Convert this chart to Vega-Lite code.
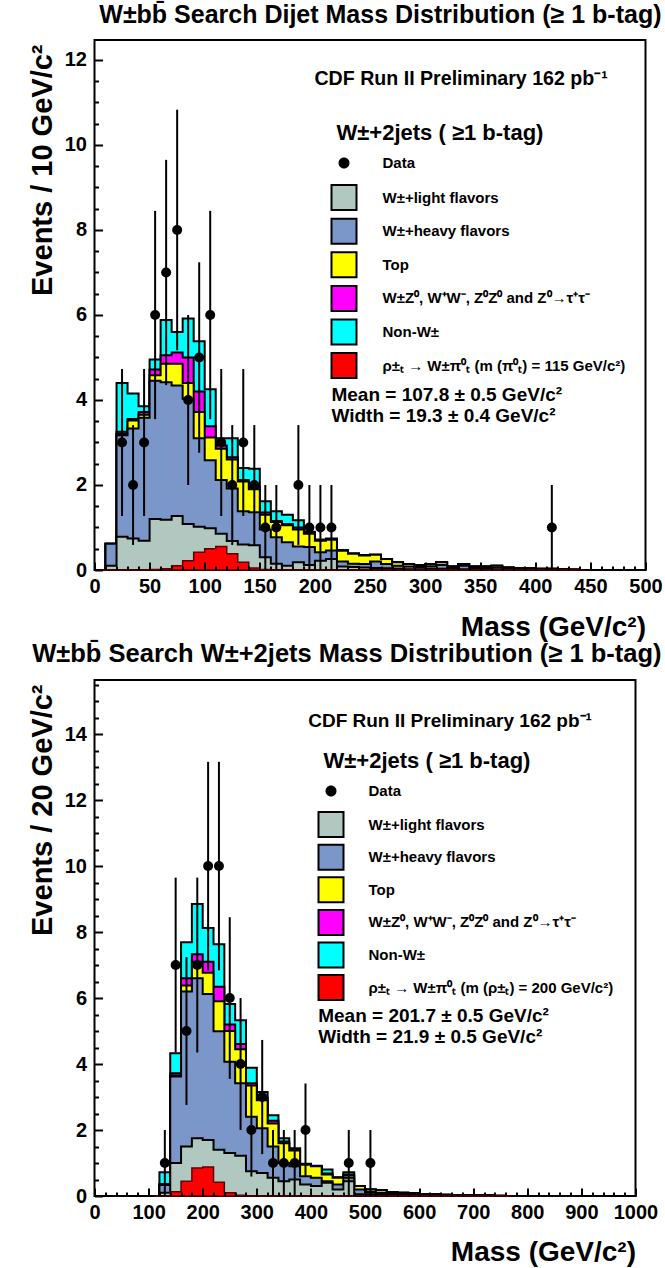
{
  "$schema": "https://vega.github.io/schema/vega-lite/v6.json",
  "padding": {"left": 27.5, "top": 2, "right": 0, "bottom": 0},
  "bounds": "flush",
  "spacing": 110,
  "config": {
    "font": "Liberation Sans, Arial, sans-serif",
    "view": {"stroke": "black", "strokeWidth": 2},
    "axis": {"labelFont": "Liberation Sans, Arial, sans-serif", "labelFontWeight": "bold", "labelFontSize": 20, "labelColor": "black", "titleFont": "Liberation Sans, Arial, sans-serif", "titleColor": "black", "titleFontWeight": "bold", "titleFontSize": 28, "grid": false, "domain": false, "tickColor": "black"},
    "title": {"font": "Liberation Sans, Arial, sans-serif", "fontWeight": "bold", "color": "black"}
  },
  "datasets": {
    "h1": [
      {"m":5,"wlf":0,"whf":0,"top":0,"vv":0,"nonw":0,"sig":0},
      {"m":15,"wlf":0.1,"whf":0.62,"top":0.62,"vv":0.62,"nonw":0.62,"sig":0},
      {"m":25,"wlf":0.78,"whf":3.17,"top":3.2,"vv":3.25,"nonw":4.4,"sig":0},
      {"m":35,"wlf":0.74,"whf":3.33,"top":3.52,"vv":3.55,"nonw":4.15,"sig":0},
      {"m":45,"wlf":0.69,"whf":3.58,"top":3.65,"vv":3.72,"nonw":3.85,"sig":0},
      {"m":55,"wlf":1.2,"whf":4.45,"top":4.58,"vv":4.72,"nonw":4.95,"sig":0.01},
      {"m":65,"wlf":1.18,"whf":4.42,"top":4.85,"vv":5.05,"nonw":5.88,"sig":0.03},
      {"m":75,"wlf":1.27,"whf":4.34,"top":4.85,"vv":5.12,"nonw":5.6,"sig":0.1},
      {"m":85,"wlf":1.08,"whf":4.03,"top":4.4,"vv":5.0,"nonw":5.92,"sig":0.22},
      {"m":95,"wlf":1.02,"whf":3.1,"top":3.72,"vv":4.2,"nonw":5.38,"sig":0.42},
      {"m":105,"wlf":0.98,"whf":2.58,"top":3.12,"vv":3.38,"nonw":4.25,"sig":0.5},
      {"m":115,"wlf":0.85,"whf":2.12,"top":2.85,"vv":2.93,"nonw":3.1,"sig":0.55},
      {"m":125,"wlf":0.68,"whf":1.92,"top":2.6,"vv":2.65,"nonw":3.1,"sig":0.38},
      {"m":135,"wlf":0.6,"whf":1.38,"top":2.08,"vv":2.12,"nonw":2.4,"sig":0.18},
      {"m":145,"wlf":0.58,"whf":1.36,"top":1.9,"vv":1.96,"nonw":2.38,"sig":0.05},
      {"m":155,"wlf":0.3,"whf":0.95,"top":1.3,"vv":1.35,"nonw":1.62,"sig":0.01},
      {"m":165,"wlf":0.15,"whf":0.77,"top":1.13,"vv":1.15,"nonw":1.38,"sig":0},
      {"m":175,"wlf":0.1,"whf":0.65,"top":1.05,"vv":1.08,"nonw":1.3,"sig":0},
      {"m":185,"wlf":0.18,"whf":0.55,"top":0.95,"vv":1.0,"nonw":1.17,"sig":0},
      {"m":195,"wlf":0.12,"whf":0.54,"top":0.85,"vv":0.87,"nonw":0.9,"sig":0},
      {"m":205,"wlf":0.22,"whf":0.42,"top":0.69,"vv":0.7,"nonw":0.72,"sig":0},
      {"m":215,"wlf":0.26,"whf":0.46,"top":0.71,"vv":0.72,"nonw":0.74,"sig":0},
      {"m":225,"wlf":0.08,"whf":0.2,"top":0.45,"vv":0.46,"nonw":0.47,"sig":0},
      {"m":235,"wlf":0.07,"whf":0.15,"top":0.38,"vv":0.39,"nonw":0.39,"sig":0},
      {"m":245,"wlf":0.06,"whf":0.14,"top":0.34,"vv":0.35,"nonw":0.35,"sig":0},
      {"m":255,"wlf":0.05,"whf":0.2,"top":0.36,"vv":0.36,"nonw":0.36,"sig":0},
      {"m":265,"wlf":0.04,"whf":0.14,"top":0.26,"vv":0.26,"nonw":0.26,"sig":0},
      {"m":275,"wlf":0.03,"whf":0.1,"top":0.18,"vv":0.18,"nonw":0.18,"sig":0},
      {"m":285,"wlf":0.02,"whf":0.08,"top":0.14,"vv":0.14,"nonw":0.14,"sig":0},
      {"m":295,"wlf":0.02,"whf":0.07,"top":0.11,"vv":0.11,"nonw":0.11,"sig":0},
      {"m":305,"wlf":0.03,"whf":0.09,"top":0.14,"vv":0.14,"nonw":0.14,"sig":0},
      {"m":315,"wlf":0.03,"whf":0.12,"top":0.18,"vv":0.18,"nonw":0.18,"sig":0},
      {"m":325,"wlf":0.02,"whf":0.05,"top":0.08,"vv":0.08,"nonw":0.08,"sig":0},
      {"m":335,"wlf":0.02,"whf":0.1,"top":0.14,"vv":0.14,"nonw":0.14,"sig":0},
      {"m":345,"wlf":0.01,"whf":0.05,"top":0.08,"vv":0.08,"nonw":0.08,"sig":0},
      {"m":355,"wlf":0.01,"whf":0.05,"top":0.08,"vv":0.08,"nonw":0.08,"sig":0},
      {"m":365,"wlf":0.01,"whf":0.06,"top":0.1,"vv":0.1,"nonw":0.1,"sig":0},
      {"m":375,"wlf":0.01,"whf":0.03,"top":0.06,"vv":0.06,"nonw":0.06,"sig":0},
      {"m":385,"wlf":0.01,"whf":0.03,"top":0.05,"vv":0.05,"nonw":0.05,"sig":0},
      {"m":395,"wlf":0,"whf":0.02,"top":0.04,"vv":0.04,"nonw":0.04,"sig":0},
      {"m":405,"wlf":0,"whf":0.02,"top":0.03,"vv":0.03,"nonw":0.03,"sig":0},
      {"m":415,"wlf":0,"whf":0.01,"top":0.03,"vv":0.03,"nonw":0.03,"sig":0},
      {"m":425,"wlf":0,"whf":0.01,"top":0.02,"vv":0.02,"nonw":0.02,"sig":0},
      {"m":435,"wlf":0,"whf":0,"top":0.01,"vv":0.01,"nonw":0.01,"sig":0},
      {"m":445,"wlf":0,"whf":0,"top":0,"vv":0,"nonw":0,"sig":0}
    ],
    "d1": [
      {"m":25,"n":3,"lo":1.27,"hi":4.73},
      {"m":35,"n":2,"lo":0.59,"hi":3.41},
      {"m":45,"n":3,"lo":1.27,"hi":4.73},
      {"m":55,"n":6,"lo":3.55,"hi":8.45},
      {"m":65,"n":7,"lo":4.35,"hi":9.65},
      {"m":75,"n":8,"lo":5.17,"hi":10.83},
      {"m":85,"n":4,"lo":2,"hi":6},
      {"m":95,"n":5,"lo":2.76,"hi":7.24},
      {"m":105,"n":6,"lo":3.55,"hi":8.45},
      {"m":115,"n":3,"lo":1.27,"hi":4.73},
      {"m":125,"n":2,"lo":0.59,"hi":3.41},
      {"m":135,"n":3,"lo":1.27,"hi":4.73},
      {"m":145,"n":2,"lo":0.59,"hi":3.41},
      {"m":155,"n":1,"lo":0,"hi":2},
      {"m":165,"n":1,"lo":0,"hi":2},
      {"m":185,"n":2,"lo":0.59,"hi":3.41},
      {"m":195,"n":1,"lo":0,"hi":2},
      {"m":205,"n":1,"lo":0,"hi":2},
      {"m":215,"n":1,"lo":0,"hi":2},
      {"m":415,"n":1,"lo":0,"hi":2}
    ],
    "h2": [
      {"m":110,"wlf":0,"whf":0,"top":0,"vv":0,"nonw":0,"sig":0},
      {"m":130,"wlf":0.1,"whf":0.33,"top":0.34,"vv":0.36,"nonw":0.72,"sig":0},
      {"m":150,"wlf":1.0,"whf":3.62,"top":3.65,"vv":3.72,"nonw":4.33,"sig":0.13},
      {"m":170,"wlf":1.5,"whf":6.2,"top":6.38,"vv":6.6,"nonw":7.69,"sig":0.45},
      {"m":190,"wlf":1.75,"whf":6.6,"top":7.1,"vv":7.33,"nonw":8.85,"sig":0.85},
      {"m":210,"wlf":1.7,"whf":6.12,"top":6.77,"vv":7.1,"nonw":8.12,"sig":0.88},
      {"m":230,"wlf":1.4,"whf":4.99,"top":5.9,"vv":6.34,"nonw":7.63,"sig":0.42},
      {"m":250,"wlf":1.3,"whf":4.07,"top":5.0,"vv":5.2,"nonw":5.82,"sig":0.1},
      {"m":270,"wlf":1.22,"whf":3.42,"top":4.45,"vv":4.61,"nonw":5.33,"sig":0.02},
      {"m":290,"wlf":0.75,"whf":2.4,"top":3.35,"vv":3.42,"nonw":3.89,"sig":0},
      {"m":310,"wlf":0.7,"whf":2.05,"top":2.9,"vv":2.98,"nonw":3.15,"sig":0},
      {"m":330,"wlf":0.55,"whf":1.5,"top":2.2,"vv":2.28,"nonw":2.45,"sig":0},
      {"m":350,"wlf":0.45,"whf":1.0,"top":1.6,"vv":1.65,"nonw":1.75,"sig":0},
      {"m":370,"wlf":0.5,"whf":0.9,"top":1.38,"vv":1.42,"nonw":1.45,"sig":0},
      {"m":390,"wlf":0.35,"whf":0.6,"top":0.95,"vv":0.96,"nonw":0.98,"sig":0},
      {"m":410,"wlf":0.3,"whf":0.55,"top":0.9,"vv":0.9,"nonw":0.92,"sig":0},
      {"m":430,"wlf":0.4,"whf":0.45,"top":0.65,"vv":0.68,"nonw":0.8,"sig":0},
      {"m":450,"wlf":0.2,"whf":0.35,"top":0.55,"vv":0.55,"nonw":0.57,"sig":0},
      {"m":470,"wlf":0.45,"whf":0.55,"top":0.62,"vv":0.65,"nonw":0.72,"sig":0},
      {"m":490,"wlf":0.05,"whf":0.2,"top":0.3,"vv":0.3,"nonw":0.3,"sig":0},
      {"m":510,"wlf":0.05,"whf":0.12,"top":0.2,"vv":0.2,"nonw":0.2,"sig":0},
      {"m":530,"wlf":0.05,"whf":0.1,"top":0.18,"vv":0.18,"nonw":0.18,"sig":0},
      {"m":550,"wlf":0.03,"whf":0.08,"top":0.12,"vv":0.12,"nonw":0.12,"sig":0},
      {"m":570,"wlf":0.03,"whf":0.06,"top":0.1,"vv":0.1,"nonw":0.1,"sig":0},
      {"m":590,"wlf":0.02,"whf":0.05,"top":0.08,"vv":0.08,"nonw":0.08,"sig":0},
      {"m":610,"wlf":0.02,"whf":0.04,"top":0.06,"vv":0.06,"nonw":0.06,"sig":0},
      {"m":630,"wlf":0.01,"whf":0.03,"top":0.05,"vv":0.05,"nonw":0.05,"sig":0},
      {"m":650,"wlf":0.01,"whf":0.03,"top":0.04,"vv":0.04,"nonw":0.04,"sig":0},
      {"m":670,"wlf":0.01,"whf":0.02,"top":0.03,"vv":0.03,"nonw":0.03,"sig":0},
      {"m":690,"wlf":0.01,"whf":0.02,"top":0.03,"vv":0.03,"nonw":0.03,"sig":0},
      {"m":710,"wlf":0,"whf":0.01,"top":0.02,"vv":0.02,"nonw":0.02,"sig":0},
      {"m":730,"wlf":0,"whf":0.01,"top":0.02,"vv":0.02,"nonw":0.02,"sig":0},
      {"m":750,"wlf":0,"whf":0,"top":0.01,"vv":0.01,"nonw":0.01,"sig":0},
      {"m":770,"wlf":0,"whf":0,"top":0,"vv":0,"nonw":0,"sig":0}
    ],
    "d2": [
      {"m":130,"n":1,"lo":0,"hi":2},
      {"m":150,"n":7,"lo":4.35,"hi":9.65},
      {"m":170,"n":5,"lo":2.76,"hi":7.24},
      {"m":190,"n":7,"lo":4.35,"hi":9.65},
      {"m":210,"n":10,"lo":6.84,"hi":13.16},
      {"m":230,"n":10,"lo":6.84,"hi":13.16},
      {"m":250,"n":6,"lo":3.55,"hi":8.45},
      {"m":270,"n":4,"lo":2,"hi":6},
      {"m":290,"n":2,"lo":0.59,"hi":3.41},
      {"m":310,"n":3,"lo":1.27,"hi":4.73},
      {"m":330,"n":1,"lo":0,"hi":2},
      {"m":350,"n":1,"lo":0,"hi":2},
      {"m":370,"n":1,"lo":0,"hi":2},
      {"m":390,"n":2,"lo":0.59,"hi":3.41},
      {"m":470,"n":1,"lo":0,"hi":2},
      {"m":510,"n":1,"lo":0,"hi":2}
    ]
  },
  "vconcat": [
    {
      "width": 551,
      "height": 530,
      "title": {"text": "W±bb̄ Search Dijet Mass Distribution (≥ 1 b-tag)", "fontSize": 25, "anchor": "end", "frame": "group", "offset": 12, "dx": 16},
      "layer": [
        {
          "layer": [
            {
              "data": {"name": "h1"},
              "mark": {"type": "area", "interpolate": "step", "stroke": "black", "strokeWidth": 2, "opacity": 1},
              "encoding": {
                "x": {"field": "m", "type": "quantitative", "scale": {"domain": [0, 500], "nice": false},
                  "axis": {"values": [0,50,100,150,200,250,300,350,400,450,500], "format": "d", "zindex": 1, "tickSize": -8, "tickWidth": 2, "labelPadding": 14, "labelFlush": false, "labelOverlap": false, "title": "Mass (GeV/c²)", "titleAnchor": "end", "titleAlign": "right", "titleY": 65, "titleBaseline": "alphabetic", "titleX": 551}},
                "y": {"field": "nonw", "type": "quantitative", "scale": {"domain": [0, 12.47], "nice": false, "zero": true},
                  "axis": {"values": [0,2,4,6,8,10,12], "format": "d", "zindex": 1, "tickSize": -8, "tickWidth": 2, "labelPadding": 16, "labelFlush": false, "title": "Events / 10 GeV/c²", "titleFontSize": 29, "titleAnchor": "end", "titleAlign": "right", "titleBaseline": "alphabetic", "titleX": -43, "titleY": 4, "titleAngle": 270}},
                "fill": {"datum": "Non-W±", "type": "nominal",
                  "scale": {"domain": ["Data", "W±+light flavors", "W±+heavy flavors", "Top", "W±Z⁰, W⁺W⁻, Z⁰Z⁰ and Z⁰→τ⁺τ⁻", "Non-W±", "ρ±ₜ → W±π⁰ₜ (m (π⁰ₜ) = 115 GeV/c²)"], "range": ["black", "#b0c8c0", "#7b96c8", "#ffff00", "#ff00ff", "#00ffff", "#ff0000"]},
                  "legend": {"orient": "none", "legendX": 242, "legendY": 83, "padding": 0, "title": "W±+2jets ( ≥1 b-tag)", "titleFontSize": 22, "titleFontWeight": "bold", "titleColor": "black", "titlePadding": 10.5, "titleLimit": 500, "labelFontSize": 15, "labelFontWeight": "bold", "labelColor": "black", "labelLimit": 500, "labelOffset": 31, "symbolType": "square", "symbolSize": 625, "symbolStrokeColor": "black", "symbolStrokeWidth": 2, "symbolOpacity": 1, "rowPadding": 0.6,
                    "encode": {"symbols": {"update": {"shape": {"signal": "datum.value === 'Data' ? 'M-1,-1M1,1M0.44,0A0.44,0.44,0,1,1,-0.44,0A0.44,0.44,0,1,1,0.44,0Z' : 'square'"}, "stroke": {"signal": "datum.value === 'Data' ? 'transparent' : 'black'"}, "strokeWidth": {"signal": "datum.value === 'Data' ? 2.3 : 2"}}}}}}
              }
            },
            {
              "data": {"name": "h1"},
              "mark": {"type": "area", "interpolate": "step", "stroke": "black", "strokeWidth": 2, "opacity": 1},
              "encoding": {
                "x": {"field": "m", "type": "quantitative"},
                "y": {"field": "vv", "type": "quantitative"},
                "fill": {"datum": "W±Z⁰, W⁺W⁻, Z⁰Z⁰ and Z⁰→τ⁺τ⁻", "type": "nominal"}
              }
            },
            {
              "data": {"name": "h1"},
              "mark": {"type": "area", "interpolate": "step", "stroke": "black", "strokeWidth": 2, "opacity": 1},
              "encoding": {
                "x": {"field": "m", "type": "quantitative"},
                "y": {"field": "top", "type": "quantitative"},
                "fill": {"datum": "Top", "type": "nominal"}
              }
            },
            {
              "data": {"name": "h1"},
              "mark": {"type": "area", "interpolate": "step", "stroke": "black", "strokeWidth": 2, "opacity": 1},
              "encoding": {
                "x": {"field": "m", "type": "quantitative"},
                "y": {"field": "whf", "type": "quantitative"},
                "fill": {"datum": "W±+heavy flavors", "type": "nominal"}
              }
            },
            {
              "data": {"name": "h1"},
              "mark": {"type": "area", "interpolate": "step", "stroke": "black", "strokeWidth": 2, "opacity": 1},
              "encoding": {
                "x": {"field": "m", "type": "quantitative"},
                "y": {"field": "wlf", "type": "quantitative"},
                "fill": {"datum": "W±+light flavors", "type": "nominal"}
              }
            },
            {
              "data": {"name": "h1"},
              "mark": {"type": "area", "interpolate": "step", "stroke": "#5a0000", "strokeWidth": 1.5, "opacity": 1},
              "encoding": {
                "x": {"field": "m", "type": "quantitative"},
                "y": {"field": "sig", "type": "quantitative"},
                "fill": {"datum": "ρ±ₜ → W±π⁰ₜ (m (π⁰ₜ) = 115 GeV/c²)", "type": "nominal"}
              }
            },
            {
              "data": {"name": "d1"},
              "mark": {"type": "rule", "color": "black", "strokeWidth": 2},
              "encoding": {
                "x": {"field": "m", "type": "quantitative"},
                "y": {"field": "lo", "type": "quantitative"},
                "y2": {"field": "hi"}
              }
            },
            {
              "data": {"name": "d1"},
              "mark": {"type": "point", "filled": true, "color": "black", "size": 100, "opacity": 1},
              "encoding": {
                "x": {"field": "m", "type": "quantitative"},
                "y": {"field": "n", "type": "quantitative"}
              }
            },
            {
              "data": {"values": [{}]},
              "mark": {"type": "text", "text": "CDF Run II Preliminary  162 pb⁻¹", "align": "left", "baseline": "alphabetic", "fontSize": 19.6, "fontWeight": "bold", "color": "black"},
              "encoding": {"x": {"datum": 199.6, "type": "quantitative"}, "y": {"datum": 11.4, "type": "quantitative"}}
            },
            {
              "data": {"values": [{}]},
              "mark": {"type": "text", "text": "Mean  = 107.8 ± 0.5 GeV/c²", "align": "left", "baseline": "alphabetic", "fontSize": 19, "fontWeight": "bold", "color": "black"},
              "encoding": {"x": {"datum": 215, "type": "quantitative"}, "y": {"datum": 3.97, "type": "quantitative"}}
            },
            {
              "data": {"values": [{}]},
              "mark": {"type": "text", "text": "Width =  19.3 ± 0.4 GeV/c²", "align": "left", "baseline": "alphabetic", "fontSize": 19, "fontWeight": "bold", "color": "black"},
              "encoding": {"x": {"datum": 215, "type": "quantitative"}, "y": {"datum": 3.49, "type": "quantitative"}}
            }
          ]
        },
        {
          "data": {"name": "d1"},
          "mark": {"type": "point", "opacity": 0},
          "encoding": {
            "x": {"field": "m", "type": "quantitative", "axis": {"orient": "bottom", "values": [10,20,30,40,60,70,80,90,110,120,130,140,160,170,180,190,210,220,230,240,260,270,280,290,310,320,330,340,360,370,380,390,410,420,430,440,460,470,480,490], "zindex": 1, "tickSize": -4, "tickWidth": 2, "labels": false, "title": null, "domain": false}},
            "y": {"field": "n", "type": "quantitative", "axis": {"orient": "left", "values": [0.5,1,1.5,2.5,3,3.5,4.5,5,5.5,6.5,7,7.5,8.5,9,9.5,10.5,11,11.5], "zindex": 1, "tickSize": -4, "tickWidth": 2, "labels": false, "title": null, "domain": false}}
          }
        }
      ],
      "resolve": {"axis": {"x": "independent", "y": "independent"}}
    },
    {
      "width": 541,
      "height": 516,
      "title": {"text": "W±bb̄ Search W±+2jets Mass Distribution (≥ 1 b-tag)", "fontSize": 25.5, "anchor": "end", "frame": "group", "offset": 13, "dx": 26},
      "layer": [
        {
          "layer": [
            {
              "data": {"name": "h2"},
              "mark": {"type": "area", "interpolate": "step", "stroke": "black", "strokeWidth": 2, "opacity": 1},
              "encoding": {
                "x": {"field": "m", "type": "quantitative", "scale": {"domain": [0, 1000], "nice": false},
                  "axis": {"values": [0,100,200,300,400,500,600,700,800,900,1000], "format": "d", "zindex": 1, "tickSize": -8, "tickWidth": 2, "labelPadding": 14, "labelFlush": false, "labelOverlap": false, "title": "Mass (GeV/c²)", "titleAnchor": "end", "titleAlign": "right", "titleY": 64, "titleBaseline": "alphabetic", "titleX": 541}},
                "y": {"field": "nonw", "type": "quantitative", "scale": {"domain": [0, 15.64], "nice": false, "zero": true},
                  "axis": {"values": [0,2,4,6,8,10,12,14], "format": "d", "zindex": 1, "tickSize": -8, "tickWidth": 2, "labelPadding": 16, "labelFlush": false, "title": "Events / 20 GeV/c²", "titleFontSize": 29, "titleAnchor": "end", "titleAlign": "right", "titleBaseline": "alphabetic", "titleX": -43, "titleY": 4, "titleAngle": 270}},
                "fill": {"datum": "Non-W±", "type": "nominal",
                  "scale": {"domain": ["Data", "W±+light flavors", "W±+heavy flavors", "Top", "W±Z⁰, W⁺W⁻, Z⁰Z⁰ and Z⁰→τ⁺τ⁻", "Non-W±", "ρ±ₜ → W±π⁰ₜ (m (ρ±ₜ) = 200 GeV/c²)"], "range": ["black", "#b0c8c0", "#7b96c8", "#ffff00", "#ff00ff", "#00ffff", "#ff0000"]},
                  "legend": {"orient": "none", "legendX": 229, "legendY": 71, "padding": 0, "title": "W±+2jets ( ≥1 b-tag)", "titleFontSize": 22, "titleFontWeight": "bold", "titleColor": "black", "titlePadding": 10.5, "titleLimit": 500, "labelFontSize": 15, "labelFontWeight": "bold", "labelColor": "black", "labelLimit": 500, "labelOffset": 30, "symbolType": "square", "symbolSize": 625, "symbolStrokeColor": "black", "symbolStrokeWidth": 2, "symbolOpacity": 1, "rowPadding": -0.4,
                    "encode": {"symbols": {"update": {"shape": {"signal": "datum.value === 'Data' ? 'M-1,-1M1,1M0.44,0A0.44,0.44,0,1,1,-0.44,0A0.44,0.44,0,1,1,0.44,0Z' : 'square'"}, "stroke": {"signal": "datum.value === 'Data' ? 'transparent' : 'black'"}, "strokeWidth": {"signal": "datum.value === 'Data' ? 2.3 : 2"}}}}}}
              }
            },
            {
              "data": {"name": "h2"},
              "mark": {"type": "area", "interpolate": "step", "stroke": "black", "strokeWidth": 2, "opacity": 1},
              "encoding": {
                "x": {"field": "m", "type": "quantitative"},
                "y": {"field": "vv", "type": "quantitative"},
                "fill": {"datum": "W±Z⁰, W⁺W⁻, Z⁰Z⁰ and Z⁰→τ⁺τ⁻", "type": "nominal"}
              }
            },
            {
              "data": {"name": "h2"},
              "mark": {"type": "area", "interpolate": "step", "stroke": "black", "strokeWidth": 2, "opacity": 1},
              "encoding": {
                "x": {"field": "m", "type": "quantitative"},
                "y": {"field": "top", "type": "quantitative"},
                "fill": {"datum": "Top", "type": "nominal"}
              }
            },
            {
              "data": {"name": "h2"},
              "mark": {"type": "area", "interpolate": "step", "stroke": "black", "strokeWidth": 2, "opacity": 1},
              "encoding": {
                "x": {"field": "m", "type": "quantitative"},
                "y": {"field": "whf", "type": "quantitative"},
                "fill": {"datum": "W±+heavy flavors", "type": "nominal"}
              }
            },
            {
              "data": {"name": "h2"},
              "mark": {"type": "area", "interpolate": "step", "stroke": "black", "strokeWidth": 2, "opacity": 1},
              "encoding": {
                "x": {"field": "m", "type": "quantitative"},
                "y": {"field": "wlf", "type": "quantitative"},
                "fill": {"datum": "W±+light flavors", "type": "nominal"}
              }
            },
            {
              "data": {"name": "h2"},
              "mark": {"type": "area", "interpolate": "step", "stroke": "#5a0000", "strokeWidth": 1.5, "opacity": 1},
              "encoding": {
                "x": {"field": "m", "type": "quantitative"},
                "y": {"field": "sig", "type": "quantitative"},
                "fill": {"datum": "ρ±ₜ → W±π⁰ₜ (m (ρ±ₜ) = 200 GeV/c²)", "type": "nominal"}
              }
            },
            {
              "data": {"name": "d2"},
              "mark": {"type": "rule", "color": "black", "strokeWidth": 2},
              "encoding": {
                "x": {"field": "m", "type": "quantitative"},
                "y": {"field": "lo", "type": "quantitative"},
                "y2": {"field": "hi"}
              }
            },
            {
              "data": {"name": "d2"},
              "mark": {"type": "point", "filled": true, "color": "black", "size": 100, "opacity": 1},
              "encoding": {
                "x": {"field": "m", "type": "quantitative"},
                "y": {"field": "n", "type": "quantitative"}
              }
            },
            {
              "data": {"values": [{}]},
              "mark": {"type": "text", "text": "CDF Run II Preliminary  162 pb⁻¹", "align": "left", "baseline": "alphabetic", "fontSize": 19, "fontWeight": "bold", "color": "black"},
              "encoding": {"x": {"datum": 395, "type": "quantitative"}, "y": {"datum": 14.22, "type": "quantitative"}}
            },
            {
              "data": {"values": [{}]},
              "mark": {"type": "text", "text": "Mean  = 201.7 ± 0.5 GeV/c²", "align": "left", "baseline": "alphabetic", "fontSize": 19, "fontWeight": "bold", "color": "black"},
              "encoding": {"x": {"datum": 413.5, "type": "quantitative"}, "y": {"datum": 5.26, "type": "quantitative"}}
            },
            {
              "data": {"values": [{}]},
              "mark": {"type": "text", "text": "Width =  21.9 ± 0.5 GeV/c²", "align": "left", "baseline": "alphabetic", "fontSize": 19, "fontWeight": "bold", "color": "black"},
              "encoding": {"x": {"datum": 413.5, "type": "quantitative"}, "y": {"datum": 4.65, "type": "quantitative"}}
            }
          ]
        },
        {
          "data": {"name": "d2"},
          "mark": {"type": "point", "opacity": 0},
          "encoding": {
            "x": {"field": "m", "type": "quantitative", "axis": {"orient": "bottom", "values": [20,40,60,80,120,140,160,180,220,240,260,280,320,340,360,380,420,440,460,480,520,540,560,580,620,640,660,680,720,740,760,780,820,840,860,880,920,940,960,980], "zindex": 1, "tickSize": -4, "tickWidth": 2, "labels": false, "title": null, "domain": false}},
            "y": {"field": "n", "type": "quantitative", "axis": {"orient": "left", "values": [0.5,1,1.5,2.5,3,3.5,4.5,5,5.5,6.5,7,7.5,8.5,9,9.5,10.5,11,11.5,12.5,13,13.5,14.5,15,15.5], "zindex": 1, "tickSize": -4, "tickWidth": 2, "labels": false, "title": null, "domain": false}}
          }
        }
      ],
      "resolve": {"axis": {"x": "independent", "y": "independent"}}
    }
  ],
  "resolve": {"scale": {"x": "independent", "y": "independent", "fill": "independent"}, "axis": {"x": "independent", "y": "independent"}, "legend": {"fill": "independent"}}
}
